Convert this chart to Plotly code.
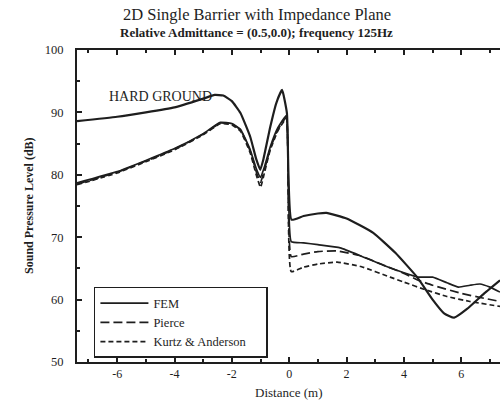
import plotly.graph_objects as go

# Hard ground FEM
hard_x = [-7.4, -6.0, -5.0, -4.0, -3.0, -2.6, -2.3, -2.0, -1.7, -1.36, -1.15, -1.01, -0.9, -0.66, -0.45, -0.25, -0.08,
          0.08, 0.5, 1.0, 1.3, 2.0, 2.93, 3.7, 4.46, 5.0, 5.4, 5.75, 6.2, 6.8, 7.35]
hard_y = [88.6, 89.3, 90.0, 90.8, 92.2, 92.8, 92.7, 91.8, 89.9, 86.1, 82.5, 80.8, 82.5, 87.7, 91.5, 93.6, 89.9,
          72.8, 73.4, 73.8, 73.9, 73.0, 70.7, 67.5, 63.6, 60.0, 57.8, 57.1, 58.5, 61.0, 63.1]

# Impedance plane: FEM
fem_x = [-7.4, -6.0, -5.0, -4.0, -3.0, -2.4, -2.0, -1.7, -1.36, -1.15, -1.0, -0.85, -0.66, -0.4, -0.1,
         0.07, 0.5, 1.0, 1.78, 2.5, 3.28, 4.0, 4.5, 5.0, 5.5, 5.9, 6.3, 6.65, 7.0, 7.35]
fem_y = [78.7, 80.5, 82.3, 84.2, 86.6, 88.4, 88.2, 87.3, 84.0, 81.0, 79.6, 81.5, 84.5, 87.5, 89.5,
         69.3, 69.1, 68.8, 68.3, 67.0, 65.5, 64.3, 63.6, 63.6, 62.7, 62.0, 62.3, 62.5, 62.0, 61.2]

# Impedance plane: Pierce
pierce_x = [-7.4, -6.0, -5.0, -4.0, -3.0, -2.4, -2.0, -1.7, -1.36, -1.15, -1.0, -0.85, -0.66, -0.4, -0.1,
            0.07, 0.5, 1.0, 1.67, 2.5, 3.3, 4.0, 4.5, 5.0, 6.0, 6.7, 7.35]
pierce_y = [78.5, 80.4, 82.2, 84.1, 86.5, 88.3, 88.1, 87.2, 83.8, 80.5, 78.8, 81.0, 84.2, 87.2, 89.2,
            66.9, 67.3, 67.7, 67.8, 67.0, 65.5, 64.2, 63.1, 62.3, 61.0, 60.3, 59.7]

# Impedance plane: Kurtz & Anderson
ka_x = [-7.4, -6.0, -5.0, -4.0, -3.0, -2.4, -2.0, -1.7, -1.36, -1.15, -1.0, -0.85, -0.66, -0.4, -0.1,
        0.07, 0.5, 1.0, 1.67, 2.5, 3.52, 4.0, 4.8, 5.5, 6.3, 7.35]
ka_y = [78.4, 80.3, 82.1, 84.0, 86.4, 88.2, 88.0, 87.0, 83.5, 80.0, 78.0, 80.6, 84.0, 87.0, 89.0,
        64.5, 65.2, 65.7, 66.0, 65.3, 63.6, 62.8, 61.5, 60.5, 59.7, 58.9]

x_ticks = [-6, -4, -2, 0, 2, 4, 6]
x_tick_labels = ["-6", "-4", "-2", "0", "2", "4", "6"]
x_minor = [-7, -5, -3, -1, 1, 3, 5, 7]
y_ticks = [50, 60, 70, 80, 90, 100]
y_minor = [55, 65, 75, 85, 95]

serif = "Liberation Serif, Times New Roman, serif"
ink = "#1e1e1e"
smooth = dict(shape="spline", smoothing=0.4)

fig = go.Figure()
fig.add_trace(go.Scatter(x=hard_x, y=hard_y, mode="lines", name="FEM",
                         line=dict(color=ink, width=2.2, **smooth), showlegend=False))
fig.add_trace(go.Scatter(x=fem_x, y=fem_y, mode="lines", name="FEM",
                         line=dict(color=ink, width=1.7, **smooth)))
fig.add_trace(go.Scatter(x=pierce_x, y=pierce_y, mode="lines", name="Pierce",
                         line=dict(color=ink, width=1.7, dash="9px,4px", **smooth)))
fig.add_trace(go.Scatter(x=ka_x, y=ka_y, mode="lines",
                         name="Kurtz & Anderson&nbsp;&nbsp;&nbsp;&nbsp;&nbsp;",
                         line=dict(color=ink, width=1.7, dash="5px,3px", **smooth)))
# top axis carrier
fig.add_trace(go.Scatter(x=[0], y=[0], xaxis="x2", mode="markers", showlegend=False,
                         marker=dict(opacity=0), hoverinfo="skip"))

axis_common = dict(showline=True, linecolor=ink, linewidth=2, showgrid=False, zeroline=False,
                   ticks="inside", ticklen=5, tickwidth=1.5, tickcolor=ink)
xr = [-7.4, 7.35]

fig.update_layout(
    width=500, height=402,
    margin=dict(l=77, r=0, t=50, b=40),
    paper_bgcolor="white", plot_bgcolor="white",
    showlegend=True,
    legend=dict(x=0.04, y=0.013, xanchor="left", yanchor="bottom",
                bordercolor=ink, borderwidth=1.5, bgcolor="white",
                font=dict(family=serif, size=12.5, color=ink),
                itemwidth=48, tracegroupgap=0),
    xaxis=dict(range=xr, tickvals=x_ticks, ticktext=x_tick_labels,
               minor=dict(tickvals=x_minor, ticks="inside", ticklen=3, tickcolor=ink),
               tickfont=dict(family=serif, size=12, color=ink), ticklabelstandoff=0,
               tickprefix="<b>", ticksuffix="</b>", **axis_common),
    xaxis2=dict(range=xr, overlaying="x", side="top", tickvals=x_ticks, showticklabels=False,
                minor=dict(tickvals=x_minor, ticks="inside", ticklen=3, tickcolor=ink),
                **axis_common),
    yaxis=dict(range=[50, 100], tickvals=y_ticks,
               minor=dict(tickvals=y_minor, ticks="inside", ticklen=3, tickcolor=ink),
               tickfont=dict(family=serif, size=12.5, color=ink), ticklabelstandoff=9,
               tickprefix="<b>", ticksuffix="</b>", **axis_common),
)

fig.add_annotation(text="2D Single Barrier with Impedance Plane", xref="paper", yref="paper",
                   x=0.4255, y=1.1125, showarrow=False, yanchor="middle",
                   font=dict(family=serif, size=16.5, color=ink))
fig.add_annotation(text="<b>Relative Admittance = (0.5,0.0); frequency 125Hz</b>", xref="paper",
                   yref="paper", x=0.4255, y=1.055, showarrow=False, yanchor="middle",
                   font=dict(family=serif, size=13, color=ink))
fig.add_annotation(text="<b>Sound Pressure Level (dB)</b>", xref="paper", yref="paper",
                   x=-0.135, y=0.503, textangle=-90, showarrow=False,
                   font=dict(family=serif, size=12, color=ink))
fig.add_annotation(text="Distance (m)", xref="paper", yref="paper",
                   x=0.5, y=-0.098, showarrow=False, yanchor="middle",
                   font=dict(family=serif, size=13, color=ink))
fig.add_annotation(text="HARD GROUND", x=-4.5, y=92.5, xref="x", yref="y", showarrow=False,
                   font=dict(family=serif, size=14, color=ink))

fig.write_html("out.html", config={"displayModeBar": False},
               post_script="document.body.style.margin='0';document.body.style.overflow='hidden';")
